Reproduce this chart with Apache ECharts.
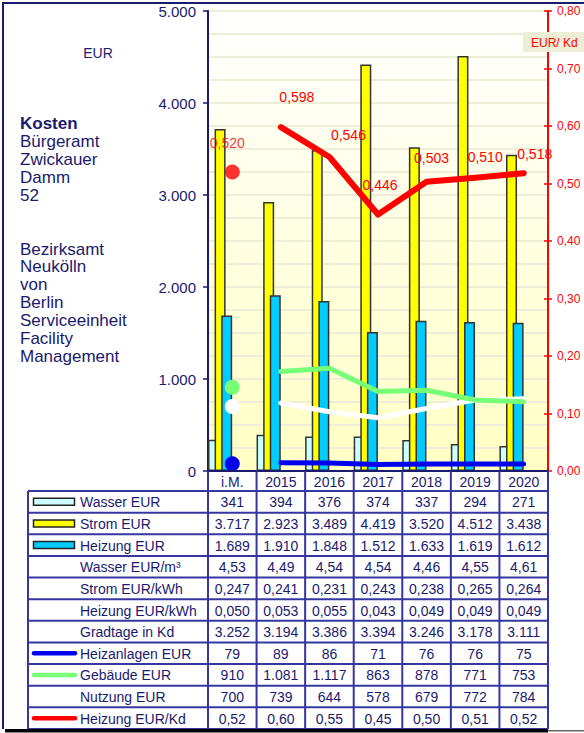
<!DOCTYPE html>
<html><head><meta charset="utf-8">
<script src="https://cdn.jsdelivr.net/npm/echarts@6/dist/echarts.min.js"></script>
<style>html,body{margin:0;padding:0;background:#fff}#c{width:584px;height:733px}</style>
</head><body><div id="c"></div>
<script>
// ---------- data ----------
const categories = ['i.M.', '2015', '2016', '2017', '2018', '2019', '2020'];
const wasserEur = [341, 394, 376, 374, 337, 294, 271];
const stromEur = [3717, 2923, 3489, 4419, 3520, 4512, 3438];
const heizungEur = [1689, 1910, 1848, 1512, 1633, 1619, 1612];
const wasserEurM3 = [4.53, 4.49, 4.54, 4.54, 4.46, 4.55, 4.61];
const stromEurKwh = [0.247, 0.241, 0.231, 0.243, 0.238, 0.265, 0.264];
const heizungEurKwh = [0.050, 0.053, 0.055, 0.043, 0.049, 0.049, 0.049];
const gradtage = [3252, 3194, 3386, 3394, 3246, 3178, 3111];
const heizanlagenEur = [79, 89, 86, 71, 76, 76, 75];
const gebaeudeEur = [910, 1081, 1117, 863, 878, 771, 753];
const nutzungEur = [700, 739, 644, 578, 679, 772, 784];
const heizungEurKd = [0.520, 0.598, 0.546, 0.446, 0.503, 0.510, 0.518];
const leftTicks = [0, 1000, 2000, 3000, 4000, 5000];
const rightTicks = [0, 0.1, 0.2, 0.3, 0.4, 0.5, 0.6, 0.7, 0.8];

// ---------- styling / layout ----------
const NAVY = '#1a1a6e', TB = '#3636a2', FONT = '"Liberation Sans", Arial, sans-serif';
const GL = 208, GT = 11, GW = 340, GH = 460;
const colW = GW / categories.length;
const TAB_L = 28, HEAD_B = GT + GH + 20, TAB_B = 729;
const fmtInt = v => String(Math.round(v)).replace(/\B(?=(\d{3})+(?!\d))/g, '.');
const fmtDec = d => v => v.toFixed(d).replace('.', ',');
const labelOffsets = [[-5, -29], [16, -30], [19, -22], [2, -30], [5, -24], [10, -21], [11, -19]];

const rows = [
  { label: 'Wasser EUR', vals: wasserEur, fmt: fmtInt, sw: { kind: 'bar', color: '#ccffff' } },
  { label: 'Strom EUR', vals: stromEur, fmt: fmtInt, sw: { kind: 'bar', color: '#ffff00' } },
  { label: 'Heizung EUR', vals: heizungEur, fmt: fmtInt, sw: { kind: 'bar', color: '#00ccff' } },
  { label: 'Wasser EUR/m³', vals: wasserEurM3, fmt: fmtDec(2) },
  { label: 'Strom EUR/kWh', vals: stromEurKwh, fmt: fmtDec(3) },
  { label: 'Heizung EUR/kWh', vals: heizungEurKwh, fmt: fmtDec(3) },
  { label: 'Gradtage in Kd', vals: gradtage, fmt: fmtInt },
  { label: 'Heizanlagen EUR', vals: heizanlagenEur, fmt: fmtInt, sw: { kind: 'line', color: '#0000ee' } },
  { label: 'Gebäude EUR', vals: gebaeudeEur, fmt: fmtInt, sw: { kind: 'line', color: '#77ff77' } },
  { label: 'Nutzung EUR', vals: nutzungEur, fmt: fmtInt, sw: { kind: 'line', color: '#ffffff' } },
  { label: 'Heizung EUR/Kd', vals: heizungEurKd, fmt: fmtDec(2), sw: { kind: 'line', color: '#ff0000' } }
];
const rowH = (TAB_B - HEAD_B) / rows.length;

// ---------- graphics (frame, texts, table) ----------
const g = [];
const txt = (text, x, y, o = {}) => g.push({
  type: 'text', z: 100, silent: true,
  style: Object.assign({ text, x, y, fill: NAVY, fontSize: 14, fontFamily: FONT, align: 'left', verticalAlign: 'middle' }, o)
});
const ln = (x1, y1, x2, y2, stroke, lw, extra = {}) => g.push({
  type: 'line', z: 90, silent: true, shape: { x1, y1, x2, y2 }, style: Object.assign({ stroke, lineWidth: lw }, extra)
});
const rc = (x, y, w, h, fill, extra = {}) => g.push({
  type: 'rect', z: 95, silent: true, shape: { x, y, width: w, height: h }, style: Object.assign({ fill }, extra)
});

// outer frame + shadow
ln(2, 3, 584, 3, NAVY, 2);
ln(3, 2, 3, TAB_B, NAVY, 2);
rc(5, TAB_B, 543, 3.5, '#000');
rc(548, TAB_B + 1, 36, 1.5, '#666');

// left texts
txt('EUR', 98, 53, { align: 'center' });
txt('Kosten', 20, 123, { fontSize: 17, fontWeight: 'bold' });
['Bürgeramt', 'Zwickauer', 'Damm', '52'].forEach((t, i) => txt(t, 20, 141 + i * 18, { fontSize: 17 }));
['Bezirksamt', 'Neukölln', 'von', 'Berlin', 'Serviceeinheit', 'Facility', 'Management']
  .forEach((t, i) => txt(t, 20, 249 + i * 17.9, { fontSize: 17 }));

// right axis title box
rc(523, 32, 61, 20, '#eeeed6', {});
txt('EUR/ Kd', 531, 43, { fill: '#ff0000', fontSize: 12 });

// table grid
for (let k = 0; k <= categories.length; k++) {
  const x = GL + k * colW;
  ln(x, GT + GH, x, TAB_B, TB, 2);
}
ln(TAB_L, HEAD_B, TAB_L, TAB_B, TB, 2);
for (let r = 0; r <= rows.length; r++) {
  const y = HEAD_B + r * rowH;
  ln(TAB_L, y, GL + GW, y, TB, 2);
}
rows.forEach((row, r) => {
  const cy = HEAD_B + (r + 0.5) * rowH;
  if (row.sw) {
    if (row.sw.kind === 'bar') {
      rc(33.5, cy - 3.5, 41, 7, row.sw.color, { stroke: '#222', lineWidth: 1.5 });
    } else {
      ln(34, cy, 75, cy, row.sw.color, 4.5, { lineCap: 'round' });
    }
  }
  txt(row.label, 80, cy + 0.5);
  row.vals.forEach((v, i) => txt(row.fmt(v), GL + (i + 0.5) * colW, cy + 0.5, { align: 'center' }));
});

// ---------- series ----------
const barStyle = c => ({ color: c, borderColor: '#333', borderWidth: 1.5 });
const lineOnly = arr => arr.map((v, i) => (i === 0 ? '-' : v));
const dotOnly = arr => arr.map((v, i) => (i === 0 ? v : '-'));
const lineSeries = (name, arr, color, width, yIdx) => ({
  type: 'line', name, data: lineOnly(arr), yAxisIndex: yIdx, showSymbol: false, connectNulls: false,
  lineStyle: { color, width, cap: 'round', join: 'round' }, itemStyle: { color }, z: 5, silent: true
});
const dotSeries = (name, arr, color, yIdx) => ({
  type: 'scatter', name, data: dotOnly(arr), yAxisIndex: yIdx, symbolSize: 15,
  itemStyle: { color, opacity: 1 }, z: 6, silent: true
});

const redLabel = i => ({
  show: true, position: 'inside', offset: labelOffsets[i], color: '#ff0000', fontSize: 14, fontFamily: FONT,
  formatter: p => fmtDec(3)(p.value)
});

const series = [
  { type: 'bar', name: 'Wasser EUR', data: wasserEur, barWidth: 11, barGap: '-40%', itemStyle: barStyle('#ccffff'), silent: true },
  { type: 'bar', name: 'Strom EUR', data: stromEur, barWidth: 11, barGap: '-40%', itemStyle: barStyle('#ffff00'), silent: true },
  { type: 'bar', name: 'Heizung EUR', data: heizungEur, barWidth: 11, barGap: '-40%', itemStyle: barStyle('#00ccff'), silent: true },
  { type: 'bar', name: 'pad', data: categories.map(() => '-'), barWidth: 28.8, barGap: '-40%', silent: true },
  lineSeries('Nutzung EUR', nutzungEur, '#ffffff', 5, 0),
  lineSeries('Gebäude EUR', gebaeudeEur, '#77ff77', 5, 0),
  lineSeries('Heizanlagen EUR', heizanlagenEur, '#0000ee', 5, 0),
  {
    type: 'line', name: 'Heizung EUR/Kd', yAxisIndex: 1, silent: true, z: 7,
    data: heizungEurKd.map((v, i) => (i === 0 ? '-' : { value: v, label: redLabel(i) })),
    showSymbol: true, symbol: 'circle', symbolSize: 1, connectNulls: false,
    lineStyle: { color: '#ff0000', width: 6, cap: 'round', join: 'round' }, itemStyle: { color: '#ff0000' }
  },
  dotSeries('Gebäude EUR', gebaeudeEur, '#77ff77', 0),
  dotSeries('Nutzung EUR', nutzungEur, '#ffffff', 0),
  dotSeries('Heizanlagen EUR', heizanlagenEur, '#0000ee', 0),
  {
    type: 'scatter', name: 'Heizung EUR/Kd', yAxisIndex: 1, symbolSize: 15, z: 8, silent: true,
    data: heizungEurKd.map((v, i) => (i === 0 ? { value: v, label: redLabel(i) } : '-')),
    itemStyle: { color: '#ff0000' }
  }
];

const chart = echarts.init(document.getElementById('c'), null, { renderer: 'svg' });
chart.setOption({
  animation: false,
  backgroundColor: '#ffffff',
  textStyle: { fontFamily: FONT },
  grid: {
    left: GL, top: GT, width: GW, height: GH, show: true, borderWidth: 0,
    backgroundColor: new echarts.graphic.LinearGradient(0, 0, 0, 1, [
      { offset: 0, color: '#ffffff' }, { offset: 1, color: '#ffffc4' }
    ])
  },
  xAxis: {
    type: 'category', data: categories, boundaryGap: true,
    axisLine: { lineStyle: { color: NAVY, width: 2 } }, axisTick: { show: false },
    axisLabel: { color: NAVY, fontSize: 14, margin: 4, fontFamily: FONT }, z: 10
  },
  yAxis: [
    {
      type: 'value', min: leftTicks[0], max: leftTicks[leftTicks.length - 1], interval: leftTicks[1] - leftTicks[0],
      axisLine: { show: true, lineStyle: { color: NAVY, width: 2 } },
      axisTick: { show: true, length: 5, lineStyle: { color: NAVY, width: 1.5 } },
      axisLabel: { color: NAVY, fontSize: 15, margin: 12, fontFamily: FONT, formatter: v => fmtInt(v) },
      splitLine: { show: true, lineStyle: { color: '#eeeed8', width: 2 } },
      minorTick: { show: false, splitNumber: 4 },
      minorSplitLine: { show: true, lineStyle: { color: '#eeeed8', width: 2 } }
    },
    {
      type: 'value', position: 'right', min: rightTicks[0], max: rightTicks[rightTicks.length - 1], interval: 0.1,
      axisLine: { show: true, lineStyle: { color: '#ff0000', width: 2 } },
      axisTick: { show: true, length: 4, lineStyle: { color: '#ff0000', width: 1.5 } },
      axisLabel: { color: '#ff0000', fontSize: 12, margin: 9, fontFamily: FONT, formatter: v => fmtDec(2)(v) },
      splitLine: { show: false }
    },
    {
      type: 'value', position: 'right', min: rightTicks[0], max: rightTicks[rightTicks.length - 1], interval: 0.1,
      axisLine: { show: false }, axisLabel: { show: false }, splitLine: { show: false },
      axisTick: { show: true, inside: true, length: 4, lineStyle: { color: '#ff0000', width: 1.5 } }
    }
  ],
  series,
  graphic: { elements: g }
});
</script></body></html>
